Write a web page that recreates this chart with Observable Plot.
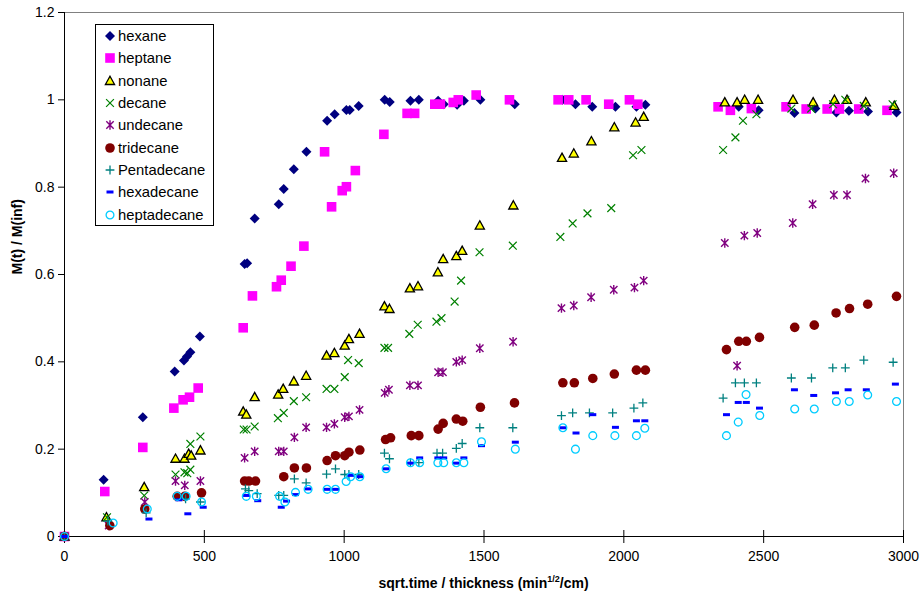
<!DOCTYPE html>
<html><head><meta charset="utf-8">
<script src="https://cdn.jsdelivr.net/npm/d3@7"></script>
<script src="https://cdn.jsdelivr.net/npm/@observablehq/plot@0.6"></script>
<style>
body{margin:0;background:#fff;font-family:"Liberation Sans",Arial,sans-serif;}
#wrap{position:relative;width:922px;height:597px;}
#legend{position:absolute;left:95px;top:24px;width:117px;height:200px;border:1px solid #000;background:#fff;}
.row{height:22.3px;display:flex;align-items:center;font-size:14.8px;color:#000;white-space:nowrap;}
.row svg{margin-left:8px;margin-right:2px;flex:none;}
</style></head><body><div id="wrap"></div>
<script>
// ---- data (x = sqrt.time/thickness, y = M(t)/M(inf)) ----
const seriesNames = ["hexane","heptane","nonane","decane","undecane","tridecane","Pentadecane","hexadecane","heptadecane"];
const hexane = [[0,0],[140,0.130],[280,0.273],[394,0.378],[427,0.403],[438,0.412],[450,0.422],[484,0.458],[644,0.624],[653,0.626],[680,0.728],[766,0.761],[784,0.796],[820,0.841],[865,0.881],[939,0.952],[966,0.967],[1008,0.977],[1020,0.977],[1052,0.986],[1145,1.000],[1163,0.995],[1237,0.998],[1267,1.000],[1336,0.998],[1356,0.990],[1404,0.989],[1428,0.998],[1487,1.000],[1610,0.990],[1781,1.000],[1827,0.990],[1887,0.984],[1970,0.984],[2045,0.984],[2077,0.989],[2411,0.984],[2482,0.976],[2610,0.970],[2685,0.980],[2760,0.971],[2805,0.975],[2873,0.973],[2975,0.971]];
const heptane = [[0,0],[144,0.103],[280,0.204],[391,0.294],[424,0.313],[447,0.319],[478,0.340],[639,0.478],[672,0.551],[758,0.572],[775,0.587],[810,0.619],[856,0.665],[930,0.881],[955,0.755],[993,0.792],[1008,0.801],[1040,0.838],[1142,0.921],[1225,0.969],[1252,0.969],[1324,0.990],[1344,0.990],[1390,0.994],[1408,1.000],[1472,1.011],[1591,1.000],[1765,1.000],[1803,1.000],[1865,1.000],[1946,0.990],[2020,1.000],[2050,0.990],[2337,0.984],[2381,0.976],[2456,0.980],[2580,0.984],[2652,0.979],[2727,0.979],[2771,0.979],[2840,0.979],[2941,0.976]];
const nonane = [[0,0],[150,0.044],[285,0.113],[397,0.178],[429,0.178],[444,0.189],[453,0.185],[486,0.197],[639,0.286],[650,0.279],[680,0.319],[764,0.325],[782,0.338],[820,0.355],[864,0.368],[937,0.414],[965,0.420],[1002,0.437],[1017,0.452],[1055,0.464],[1144,0.527],[1162,0.521],[1235,0.568],[1264,0.573],[1335,0.605],[1354,0.635],[1401,0.642],[1422,0.654],[1485,0.712],[1605,0.758],[1779,0.867],[1821,0.877],[1884,0.905],[1966,0.937],[2042,0.948],[2071,0.961],[2361,0.994],[2405,0.994],[2432,1.000],[2480,1.000],[2605,1.000],[2677,0.994],[2753,1.000],[2798,1.000],[2865,0.994],[2967,0.986]];
const decane = [[0,0],[152,0.044],[285,0.094],[397,0.142],[429,0.147],[439,0.145],[450,0.153],[450,0.212],[486,0.229],[641,0.245],[651,0.245],[680,0.252],[763,0.271],[784,0.283],[820,0.310],[864,0.319],[937,0.338],[965,0.338],[1002,0.365],[1014,0.404],[1052,0.397],[1144,0.432],[1157,0.432],[1233,0.464],[1263,0.485],[1330,0.492],[1348,0.500],[1395,0.538],[1418,0.586],[1484,0.651],[1603,0.666],[1773,0.686],[1817,0.717],[1870,0.740],[1955,0.752],[2033,0.873],[2063,0.885],[2355,0.885],[2399,0.914],[2426,0.952],[2474,0.967],[2599,0.980],[2670,0.980],[2748,0.990],[2792,1.000],[2858,0.986],[2961,0.990]];
const undecane = [[0,0],[158,0.025],[287,0.079],[397,0.127],[430,0.117],[486,0.127],[644,0.180],[680,0.195],[766,0.195],[784,0.195],[822,0.227],[864,0.250],[937,0.250],[965,0.258],[1002,0.273],[1017,0.275],[1055,0.290],[1145,0.329],[1160,0.336],[1235,0.346],[1264,0.346],[1336,0.376],[1353,0.376],[1401,0.400],[1422,0.404],[1485,0.431],[1604,0.446],[1777,0.523],[1821,0.529],[1883,0.548],[1964,0.565],[2038,0.570],[2071,0.586],[2361,0.672],[2405,0.391],[2431,0.689],[2477,0.695],[2604,0.718],[2675,0.761],[2751,0.782],[2798,0.782],[2864,0.820],[2965,0.832]];
const tridecane = [[0,0],[162,0.025],[287,0.063],[403,0.092],[430,0.092],[490,0.100],[644,0.127],[659,0.127],[683,0.127],[784,0.137],[822,0.157],[865,0.157],[939,0.174],[969,0.185],[1002,0.185],[1017,0.193],[1056,0.198],[1148,0.222],[1166,0.226],[1240,0.231],[1267,0.231],[1336,0.246],[1354,0.259],[1401,0.269],[1424,0.264],[1487,0.296],[1609,0.306],[1782,0.352],[1823,0.352],[1889,0.362],[1966,0.372],[2045,0.381],[2077,0.381],[2367,0.428],[2411,0.447],[2438,0.447],[2485,0.456],[2611,0.479],[2681,0.484],[2759,0.512],[2807,0.522],[2872,0.532],[2975,0.550]];
const pentadecane = [[0,0],[155,0.035],[292,0.054],[433,0.086],[486,0.079],[647,0.109],[659,0.105],[689,0.098],[766,0.094],[784,0.094],[822,0.132],[864,0.123],[937,0.143],[969,0.155],[1002,0.142],[1017,0.142],[1052,0.142],[1144,0.191],[1162,0.178],[1237,0.169],[1267,0.169],[1332,0.191],[1352,0.191],[1401,0.202],[1422,0.213],[1485,0.249],[1603,0.249],[1777,0.277],[1817,0.283],[1877,0.283],[1960,0.283],[2036,0.294],[2068,0.306],[2355,0.317],[2399,0.352],[2431,0.352],[2474,0.352],[2599,0.363],[2671,0.363],[2747,0.386],[2792,0.386],[2858,0.404],[2963,0.399]];
const hexadecane = [[0,0],[302,0.040],[409,0.084],[441,0.052],[496,0.067],[651,0.094],[691,0.082],[775,0.067],[794,0.081],[826,0.096],[871,0.109],[939,0.108],[969,0.108],[1023,0.140],[1056,0.137],[1150,0.155],[1237,0.168],[1270,0.180],[1335,0.180],[1356,0.180],[1401,0.168],[1428,0.180],[1491,0.208],[1612,0.216],[1782,0.249],[1829,0.237],[1889,0.279],[1970,0.250],[2045,0.265],[2075,0.265],[2367,0.279],[2409,0.307],[2438,0.307],[2485,0.294],[2610,0.336],[2679,0.323],[2757,0.329],[2802,0.336],[2867,0.336],[2971,0.349]];
const heptadecane = [[0,0],[174,0.031],[296,0.063],[403,0.092],[435,0.092],[490,0.079],[650,0.092],[686,0.092],[769,0.092],[788,0.079],[826,0.101],[871,0.108],[939,0.108],[969,0.108],[1007,0.126],[1023,0.137],[1056,0.137],[1150,0.155],[1237,0.169],[1270,0.169],[1335,0.169],[1356,0.169],[1401,0.169],[1428,0.169],[1491,0.217],[1612,0.200],[1782,0.249],[1827,0.200],[1889,0.231],[1968,0.231],[2045,0.231],[2075,0.248],[2367,0.231],[2409,0.262],[2437,0.325],[2486,0.277],[2611,0.292],[2681,0.292],[2760,0.309],[2806,0.309],[2872,0.324],[2975,0.309]];

const xTicks = [0,500,1000,1500,2000,2500,3000];
const xTickLabels = ["0","500","1000","1500","2000","2500","3000"];
const yTicks = [0,0.2,0.4,0.6,0.8,1,1.2];
const yTickLabels = ["0","0.2","0.4","0.6","0.8","1","1.2"];
const yTitle = "M(t) / M(inf)";

// ---- marker shapes (Excel-like) ----
const symDiamond = {draw(c){c.moveTo(0,-5);c.lineTo(5,0);c.lineTo(0,5);c.lineTo(-5,0);c.closePath();}};
const symSquare = {draw(c){c.rect(-4.8,-4.8,9.6,9.6);}};
const symTriangle = {draw(c){c.moveTo(0,-4.8);c.lineTo(4.6,3.5);c.lineTo(-4.6,3.5);c.closePath();}};
const symX = {draw(c){c.moveTo(-3.9,-3.9);c.lineTo(3.9,3.9);c.moveTo(-3.9,3.9);c.lineTo(3.9,-3.9);}};
const symStar = {draw(c){c.moveTo(-3.7,-3.7);c.lineTo(3.7,3.7);c.moveTo(-3.7,3.7);c.lineTo(3.7,-3.7);c.moveTo(0,-4.7);c.lineTo(0,4.7);}};
const symCircle = {draw(c){c.moveTo(4.8,0);c.arc(0,0,4.8,0,2*Math.PI);}};
const symPlus = {draw(c){c.moveTo(-4.4,0);c.lineTo(4.4,0);c.moveTo(0,-4.4);c.lineTo(0,4.4);}};
const symDash = {draw(c){c.rect(-3.5,-1.5,7,3);}};
const symRing = {draw(c){c.moveTo(3.9,0);c.arc(0,0,3.9,0,2*Math.PI);}};

const seriesData = [hexane, heptane, nonane, decane, undecane, tridecane, pentadecane, hexadecane, heptadecane];
const styles = [
  {symbol: symDiamond, fill: "#000080", stroke: "none", strokeWidth: 0},
  {symbol: symSquare, fill: "#FF00FF", stroke: "none", strokeWidth: 0},
  {symbol: symTriangle, fill: "#FFFF00", stroke: "#000000", strokeWidth: 1.3},
  {symbol: symX, fill: "none", stroke: "#008000", strokeWidth: 1.2},
  {symbol: symStar, fill: "none", stroke: "#800080", strokeWidth: 1.4},
  {symbol: symCircle, fill: "#800000", stroke: "none", strokeWidth: 0},
  {symbol: symPlus, fill: "none", stroke: "#008080", strokeWidth: 1.3},
  {symbol: symDash, fill: "#0000FF", stroke: "none", strokeWidth: 0},
  {symbol: symRing, fill: "none", stroke: "#00CCFF", strokeWidth: 1.3}
];

const dotMarks = seriesData.map((data, i) => Plot.dot(data, {
  x: d => d[0], y: d => d[1], r: 4,
  symbol: styles[i].symbol, fill: styles[i].fill, stroke: styles[i].stroke, strokeWidth: styles[i].strokeWidth
}));

const chart = Plot.plot({
  width: 922, height: 597,
  marginLeft: 64, marginRight: 19, marginTop: 12, marginBottom: 61,
  style: {fontFamily: '"Liberation Sans", Arial, sans-serif', fontSize: "14px", background: "white", color: "#000"},
  x: {domain: [0, 3000]},
  y: {domain: [0, 1.2]},
  marks: [
    Plot.ruleY([1.2], {stroke: "#808080"}),
    Plot.ruleX([3000], {stroke: "#808080"}),
    Plot.axisY({ticks: yTicks, tickFormat: d => yTickLabels[yTicks.indexOf(d)], tickSize: 6, tickPadding: 4, label: null, fontSize: 14}),
    Plot.axisX({ticks: xTicks, tickFormat: d => xTickLabels[xTicks.indexOf(d)], tickSize: 13, tickPadding: 8, dy: -6, label: null, fontSize: 14}),
    Plot.ruleX([0], {stroke: "#000"}),
    Plot.ruleY([0], {stroke: "#000"}),
    ...dotMarks,
    Plot.text([yTitle], {frameAnchor: "left", rotate: -90, dx: -47, fontWeight: "bold", fontSize: 14})
  ]
});

// x-axis title with superscript
const sx = chart.scale("x");
const t = d3.select(chart).append("text")
  .attr("x", (sx.apply(0) + sx.apply(3000)) / 2).attr("y", 588)
  .attr("text-anchor", "middle").attr("font-weight", "bold").attr("font-size", 14).attr("fill", "#000");
t.append("tspan").text("sqrt.time / thickness (min");
t.append("tspan").attr("dy", -6).attr("font-size", 9).text("1/2");
t.append("tspan").attr("dy", 6).text("/cm)");

const wrap = document.getElementById("wrap");
wrap.appendChild(chart);

// legend
const legend = document.createElement("div");
legend.id = "legend";
seriesNames.forEach((name, i) => {
  const row = document.createElement("div");
  row.className = "row";
  const p = d3.path(); styles[i].symbol.draw(p, 0);
  const s = styles[i];
  row.innerHTML = `<svg width="12" height="12" viewBox="-6 -6 12 12"><path d="${p.toString()}" fill="${s.fill}" stroke="${s.stroke}" stroke-width="${s.strokeWidth}"/></svg><span>${name}</span>`;
  legend.appendChild(row);
});
wrap.appendChild(legend);
</script></body></html>
